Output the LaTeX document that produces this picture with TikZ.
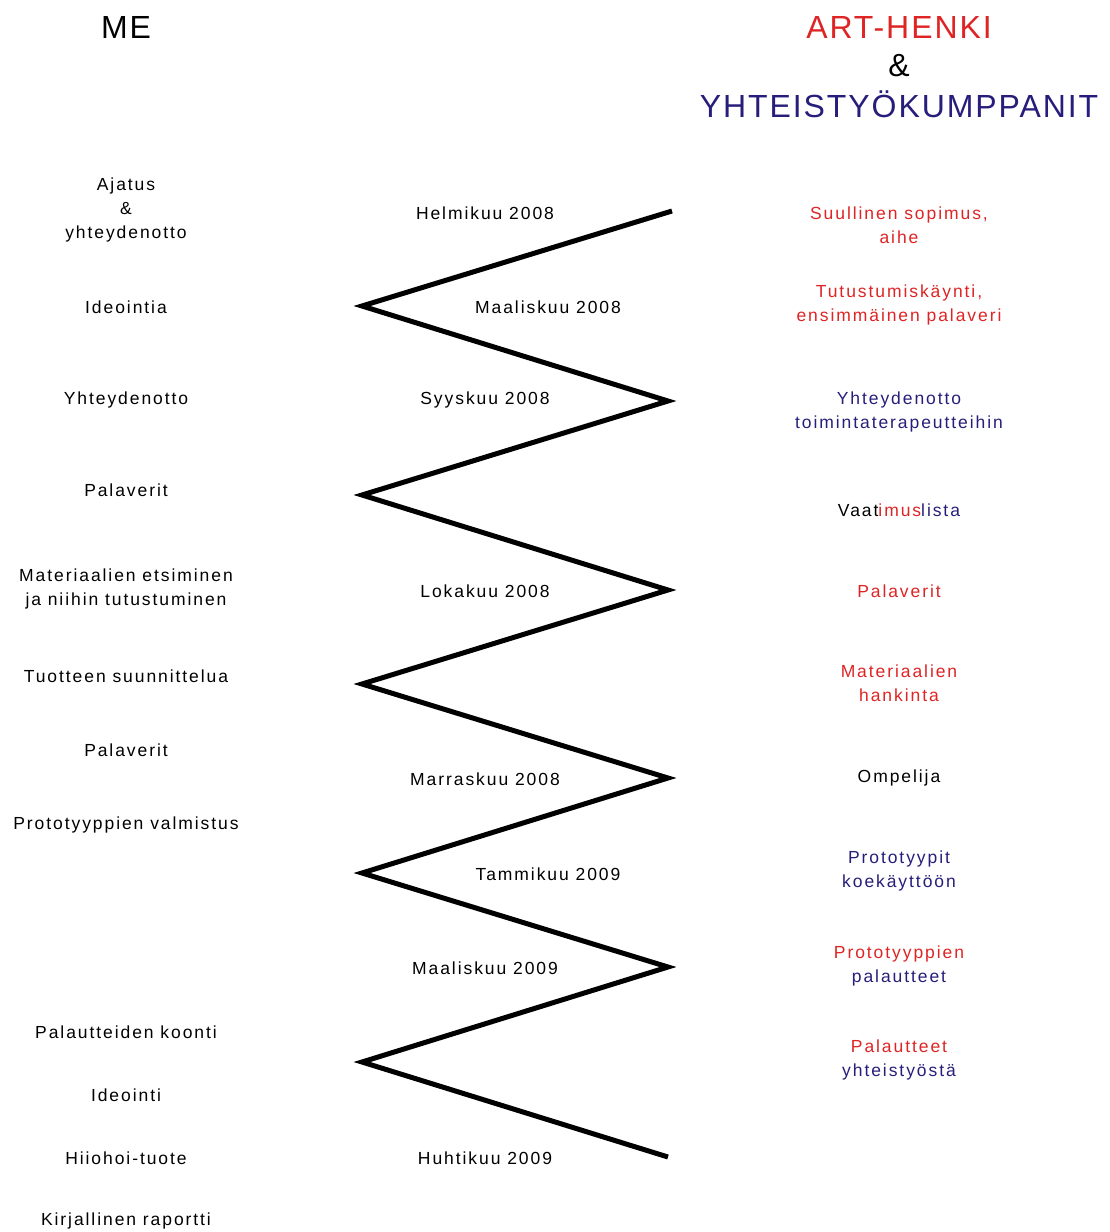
\documentclass[tikz,border=0pt]{standalone}
\usepackage{fontspec}
\setmainfont{Liberation Sans}
\newfontfamily\bodyfont[LetterSpace=11]{Liberation Sans}
\newfontfamily\headfont[LetterSpace=6]{Liberation Sans}
\definecolor{artred}{RGB}{222,36,36}
\definecolor{artblue}{RGB}{38,30,122}
\begin{document}
\begin{tikzpicture}[x=1pt,y=-1pt,
		txt/.style={align=center,inner sep=0pt,font=\bodyfont\fontsize{17.5}{24}\selectfont},
		head/.style={align=center,inner sep=0pt,font=\headfont\fontsize{32}{39}\selectfont}]
	\useasboundingbox (0,0) rectangle (1109,1232);

	% headings
	\node[head] (me) at (126,27) {ME};
	\node[head,text=artred] (art) at (899,27) {ART-HENKI};
	\node[head] (amp) at (899,66) {\&};
	\node[head,text=artblue] (yht) at (899,104) {YHTEISTYÖKUMPPANIT};

	% zigzag timeline
	\draw[line width=5pt]
			 (672,211)
		  -- (362,306)
		  -- (668,401)
		  -- (362,495)
		  -- (668,590)
		  -- (362,684)
		  -- (668,778)
		  -- (362,873)
		  -- (668,967)
		  -- (362,1062)
		  -- (668,1157);

	% left column
	\node[txt] (l1) at (126,210) {Ajatus\\\&\\yhteydenotto};
	\node[txt] (l2) at (126,307) {Ideointia};
	\node[txt] (l3) at (126,400) {Yhteydenotto};
	\node[txt] (l4) at (126,490) {Palaverit};
	\node[txt] (l5) at (126,589) {Materiaalien etsiminen\\ja niihin tutustuminen};
	\node[txt] (l6) at (126,676) {Tuotteen suunnittelua};
	\node[txt] (l7) at (126,750) {Palaverit};
	\node[txt] (l8) at (126,825) {Prototyyppien valmistus};
	\node[txt] (l9) at (126,1032) {Palautteiden koonti};
	\node[txt] (l10) at (126,1095) {Ideointi};
	\node[txt] (l11) at (126,1158) {Hiiohoi-tuote};
	\node[txt] (l12) at (126,1221) {Kirjallinen raportti};

	% dates
	\node[txt] (d1) at (485,213) {Helmikuu 2008};
	\node[txt] (d2) at (548,307) {Maaliskuu 2008};
	\node[txt] (d3) at (485,400) {Syyskuu 2008};
	\node[txt] (d4) at (485,591) {Lokakuu 2008};
	\node[txt] (d5) at (485,779) {Marraskuu 2008};
	\node[txt] (d6) at (548,874) {Tammikuu 2009};
	\node[txt] (d7) at (485,968) {Maaliskuu 2009};
	\node[txt] (d8) at (485,1158) {Huhtikuu 2009};

	% right column
	\node[txt,text=artred] (r1) at (899,225) {Suullinen sopimus,\\aihe};
	\node[txt,text=artred] (r2) at (899,305) {Tutustumiskäynti,\\ensimmäinen palaveri};
	\node[txt,text=artblue] (r3) at (899,412) {Yhteydenotto\\toimintaterapeutteihin};
	\node[txt] (r4) at (899,510) {Vaat\textcolor{artred}{imus}\textcolor{artblue}{lista}};
	\node[txt,text=artred] (r5) at (899,591) {Palaverit};
	\node[txt,text=artred] (r6) at (899,683) {Materiaalien\\hankinta};
	\node[txt] (r7) at (899,778) {Ompelija};
	\node[txt,text=artblue] (r8) at (899,871) {Prototyypit\\koekäyttöön};
	\node[txt] (r9) at (899,966) {\textcolor{artred}{Prototyyppien}\\\textcolor{artblue}{palautteet}};
	\node[txt] (r10) at (899,1060) {\textcolor{artred}{Palautteet}\\\textcolor{artblue}{yhteistyöstä}};
\end{tikzpicture}
\end{document}
